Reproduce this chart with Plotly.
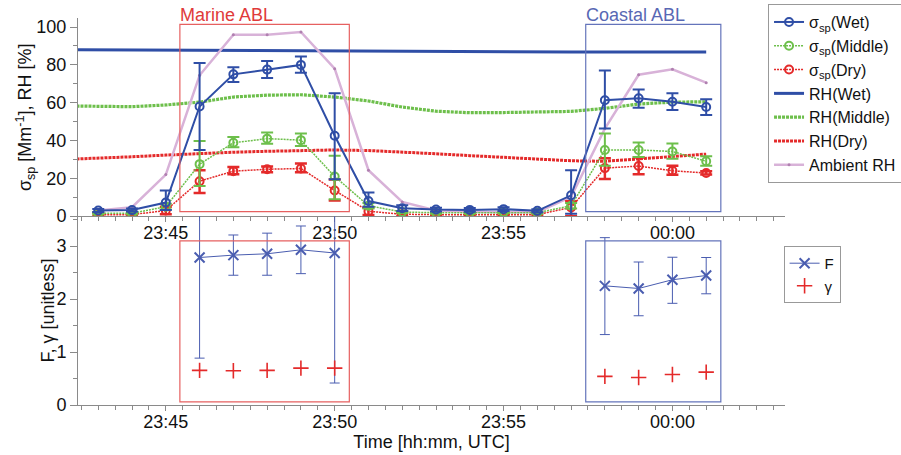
import plotly.graph_objects as go

# ---------------- data ----------------
times = ["2000-01-01 23:43", "2000-01-01 23:44", "2000-01-01 23:45", "2000-01-01 23:46",
         "2000-01-01 23:47", "2000-01-01 23:48", "2000-01-01 23:49", "2000-01-01 23:50",
         "2000-01-01 23:51", "2000-01-01 23:52", "2000-01-01 23:53", "2000-01-01 23:54",
         "2000-01-01 23:55", "2000-01-01 23:56", "2000-01-01 23:57", "2000-01-01 23:58",
         "2000-01-01 23:59", "2000-01-02 00:00", "2000-01-02 00:01"]

sp_wet = [3.0, 3.2, 7.2, 58.0, 75.0, 77.5, 80.0, 42.5, 8.0, 4.2, 3.5, 3.3, 3.7, 2.8, 11.0, 61.3, 62.3, 60.5, 57.7]
sp_wet_ep = [0.8, 0.8, 6.3, 23.0, 3.7, 4.5, 4.5, 22.5, 4.5, 1.5, 1.0, 1.0, 1.0, 0.8, 13.3, 15.7, 4.7, 4.5, 4.1]
sp_wet_em = [0.8, 0.8, 4.0, 23.0, 4.0, 4.5, 4.2, 23.0, 3.0, 1.5, 1.0, 1.0, 1.0, 0.8, 9.7, 15.0, 5.0, 4.3, 4.2]

sp_mid = [1.5, 1.5, 5.0, 27.5, 38.8, 41.0, 40.2, 21.0, 5.5, 2.2, 1.8, 1.8, 2.0, 1.8, 5.5, 35.0, 35.0, 34.2, 29.0]
sp_mid_ep = [0.5, 0.5, 1.5, 12.3, 3.0, 3.3, 3.5, 11.0, 1.5, 0.5, 0.5, 0.5, 0.5, 0.5, 1.5, 8.7, 3.9, 4.2, 2.7]
sp_mid_em = [0.5, 0.5, 1.5, 11.5, 2.4, 2.7, 3.1, 12.0, 1.5, 0.5, 0.5, 0.5, 0.5, 0.5, 1.5, 8.4, 3.7, 3.8, 2.4]

sp_dry = [0.8, 0.8, 3.0, 18.5, 23.8, 24.8, 25.2, 13.6, 2.6, 1.0, 0.8, 0.8, 1.0, 0.8, 4.6, 25.4, 26.5, 24.0, 22.8]
sp_dry_ep = [0.8, 0.8, 2.0, 5.8, 2.2, 1.4, 2.6, 5.8, 2.0, 0.8, 0.6, 0.6, 0.8, 0.6, 3.3, 5.2, 4.5, 2.6, 0.9]
sp_dry_em = [0.8, 0.8, 2.0, 6.2, 1.6, 1.6, 2.0, 5.3, 2.0, 0.8, 0.6, 0.6, 0.8, 0.6, 4.6, 5.7, 4.3, 2.1, 0.8]

ambient_rh = [3.0, 4.7, 22.0, 74.5, 96.0, 96.0, 97.4, 78.0, 24.3, 7.5, 3.0, 2.3, 2.0, 2.0, 10.2, 46.3, 74.8, 77.7, 70.6]

rh_times = ["2000-01-01 23:42"] + times
rh_wet = [88.0, 87.9, 87.8, 87.7, 87.6, 87.5, 87.4, 87.3, 87.2, 87.1, 87.0, 87.0, 86.9, 86.9, 86.8, 86.8, 86.8, 86.8, 86.8, 86.8]
rh_mid = [58.3, 58.1, 57.9, 58.8, 60.3, 63.0, 64.0, 64.2, 63.0, 60.9, 57.7, 55.5, 54.7, 54.8, 55.1, 55.4, 57.0, 59.3, 60.3, 60.5]
rh_dry = [30.0, 30.6, 31.4, 32.3, 33.2, 33.8, 34.3, 34.8, 35.0, 34.7, 34.0, 33.0, 32.0, 31.0, 30.0, 29.3, 29.0, 30.3, 31.9, 32.8]

f_times = times[3:]
F = [2.785, 2.83, 2.855, 2.93, 2.87, None, None, None, None, None, None, None, 2.25, 2.2, 2.365, 2.445]
F_ep = [3.0, 0.38, 0.39, 0.45, 3.0, None, None, None, None, None, None, None, 0.91, 0.50, 0.425, 0.34]
F_em = [1.9, 0.38, 0.405, 0.45, 2.455, None, None, None, None, None, None, None, 0.92, 0.515, 0.445, 0.345]
gamma = [0.653, 0.647, 0.653, 0.697, 0.697, None, None, None, None, None, None, None, 0.54, 0.52, 0.577, 0.62]

marine_box = ["2000-01-01 23:45:25", "2000-01-01 23:50:26"]
coastal_box = ["2000-01-01 23:57:26", "2000-01-02 00:01:26"]
box_top_y = [2.4, 101.4]
box_bot_y = [0.06, 3.1]

# ---------------- style ----------------
BLUE = "#2f4ea6"
GREEN = "#6dbf4b"
RED = "#e42a2a"
PINK = "#d8b2d8"
FBLUE = "#4a5db0"
BOXRED = "#e66060"
BOXBLUE = "#6474bb"
FONT = "Liberation Sans, Arial, sans-serif"

fig = go.Figure()

def err(ep, em, color, w=1.5, cap=5):
    return dict(type="data", symmetric=False, array=ep, arrayminus=em,
                color=color, thickness=w, width=cap)

fig.add_trace(go.Scatter(x=rh_times, y=rh_wet, mode="lines", name="RH(Wet)",
                         line=dict(color=BLUE, width=3), legendrank=4))
fig.add_trace(go.Scatter(x=rh_times, y=rh_mid, mode="lines", name="RH(Middle)",
                         line=dict(color=GREEN, width=3.2, dash="3px,1px"), legendrank=5))
fig.add_trace(go.Scatter(x=rh_times, y=rh_dry, mode="lines", name="RH(Dry)",
                         line=dict(color=RED, width=3, dash="3px,1px"), legendrank=6))
fig.add_trace(go.Scatter(x=times, y=ambient_rh, mode="lines+markers", name="Ambient RH",
                         line=dict(color=PINK, width=2.5),
                         marker=dict(color="#b080b0", size=3), legendrank=7))

fig.add_trace(go.Scatter(x=times, y=sp_dry, mode="lines+markers", name="σ<sub>sp</sub>(Dry)",
                         line=dict(color=RED, width=1.5, dash="2px,1px"),
                         marker=dict(symbol="circle-open", size=8, color=RED, line=dict(width=2)),
                         error_y=err(sp_dry_ep, sp_dry_em, RED, 2.5, 6), legendrank=3))
fig.add_trace(go.Scatter(x=times, y=sp_mid, mode="lines+markers", name="σ<sub>sp</sub>(Middle)",
                         line=dict(color=GREEN, width=1.5, dash="2px,1px"),
                         marker=dict(symbol="circle-open", size=8, color=GREEN, line=dict(width=2)),
                         error_y=err(sp_mid_ep, sp_mid_em, GREEN, 2, 6), legendrank=2))
fig.add_trace(go.Scatter(x=times, y=sp_wet, mode="lines+markers", name="σ<sub>sp</sub>(Wet)",
                         line=dict(color=BLUE, width=2),
                         marker=dict(symbol="circle-open", size=8, color=BLUE, line=dict(width=2)),
                         error_y=err(sp_wet_ep, sp_wet_em, BLUE, 2, 6), legendrank=1))

fig.add_trace(go.Scatter(x=f_times, y=F, mode="lines+markers", name="F",
                         xaxis="x2", yaxis="y2", legend="legend2",
                         line=dict(color=FBLUE, width=1),
                         marker=dict(symbol="x-thin-open", size=10, color=FBLUE, line=dict(width=2, color=FBLUE)),
                         error_y=err(F_ep, F_em, FBLUE, 1, 5)))
fig.add_trace(go.Scatter(x=f_times, y=gamma, mode="markers", name="γ",
                         xaxis="x2", yaxis="y2", legend="legend2",
                         marker=dict(symbol="cross-thin-open", size=11, color=RED, line=dict(width=1.6, color=RED))))

for (bx, col) in [(marine_box, BOXRED), (coastal_box, BOXBLUE)]:
    fig.add_shape(type="rect", xref="x", yref="y", x0=bx[0], x1=bx[1],
                  y0=box_top_y[0], y1=box_top_y[1], line=dict(color=col, width=1.2))
    fig.add_shape(type="rect", xref="x2", yref="y2", x0=bx[0], x1=bx[1],
                  y0=box_bot_y[0], y1=box_bot_y[1], line=dict(color=col, width=1.2))

fig.add_annotation(x=marine_box[0], y=box_top_y[1], xref="x", yref="y", text="Marine ABL",
                   showarrow=False, xanchor="left", yanchor="bottom", xshift=-2, yshift=-3,
                   font=dict(color="#e03a3a", size=18, family=FONT))
fig.add_annotation(x=coastal_box[0], y=box_top_y[1], xref="x", yref="y", text="Coastal ABL",
                   showarrow=False, xanchor="left", yanchor="bottom", xshift=-2, yshift=-3,
                   font=dict(color="#5868b4", size=18, family=FONT))

# y-axis titles as rotated annotations (precise placement)
fig.add_annotation(x=0, y=0.744, xref="paper", yref="paper", xanchor="center", yanchor="middle",
                   xshift=-53, text="σ<sub>sp</sub> [Mm<sup>-1</sup>], RH [%]", textangle=-90,
                   showarrow=False, font=dict(size=18, family=FONT, color="#111"))
fig.add_annotation(x=0, y=0.244, xref="paper", yref="paper", xanchor="center", yanchor="middle",
                   xshift=-30, text="F, γ [unitless]", textangle=-90,
                   showarrow=False, font=dict(size=18, family=FONT, color="#111"))

xrange = ["2000-01-01 23:42:24", "2000-01-02 00:03:20"]
AX = "#8a8a8a"
xcommon = dict(type="date", range=xrange, tickformat="%H:%M", dtick=300000,
               tick0="2000-01-01 23:45:00", ticks="outside", ticklen=5, tickcolor=AX,
               showline=True, linecolor=AX, linewidth=1, showgrid=False, zeroline=False,
               minor=dict(dtick=30000, ticks="outside", ticklen=4, tickcolor=AX, showgrid=False),
               tickfont=dict(size=18, color="#111"), automargin=False, ticklabelstandoff=-5)
ycommon = dict(ticks="outside", ticklen=7, tickcolor=AX, showline=True, linecolor=AX,
               linewidth=1, showgrid=False, zeroline=False, tickfont=dict(size=18, color="#111"),
               automargin=False)

fig.update_layout(
    width=901, height=455,
    margin=dict(l=78, r=116, t=18, b=50, autoexpand=False),
    paper_bgcolor="white", plot_bgcolor="white",
    font=dict(family=FONT, size=18, color="#111"),
    xaxis=dict(**xcommon, anchor="y"),
    xaxis2=dict(**xcommon, anchor="y2", matches="x",
                title=dict(text="Time [hh:mm, UTC]", font=dict(size=18), standoff=0)),
    yaxis=dict(**ycommon, domain=[0.488, 1.0], range=[0, 104.8], dtick=20,
               minor=dict(dtick=10, ticks="outside", ticklen=4, tickcolor=AX)),
    yaxis2=dict(**ycommon, domain=[0.0, 0.488], range=[0, 3.566], dtick=1,
                minor=dict(dtick=0.5, ticks="outside", ticklen=4, tickcolor=AX)),
    legend=dict(x=0.976, y=1.036, xanchor="left", yanchor="top", bgcolor="white",
                bordercolor="#999", borderwidth=1, font=dict(size=16), tracegroupgap=0,
                itemwidth=30),
    legend2=dict(x=0.998, y=0.411, xanchor="left", yanchor="top", bgcolor="white",
                 bordercolor="#999", borderwidth=1, font=dict(size=15), itemwidth=30),
    showlegend=True,
)

fig.write_html("out.html", config={"displayModeBar": False},
               post_script="document.body.style.margin='0';")
